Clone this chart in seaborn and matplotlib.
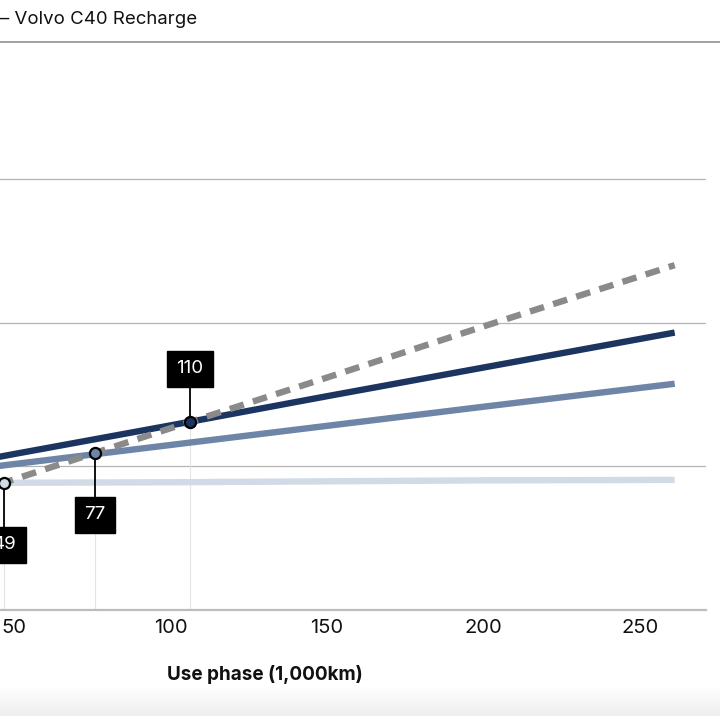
import numpy as np
import pandas as pd
import matplotlib
matplotlib.use("Agg")
import matplotlib.pyplot as plt
import seaborn as sns

sns.set_theme(style="white")
plt.rcParams['font.family'] = ['Inter', 'DejaVu Sans']

# use phase in 1,000 km, cumulative emissions in tCO2e
km = [0, 50, 100, 150, 200, 261]
xc40_petrol = [16.5, 27.2, 37.9, 48.5, 59.2, 72.0]
c40_global_mix = [26.4, 32.5, 38.5, 44.6, 50.6, 57.9]
c40_eu_mix = [26.4, 30.4, 34.4, 38.4, 42.4, 47.2]
c40_wind = [26.4, 26.5, 26.6, 26.8, 27.0, 27.1]

# break-even points (where each C40 line meets the petrol line)
be_labels = ['49', '77', '110']
be_x = [46.9, 75.9, 106.2]
be_y = [26.5, 32.7, 39.3]
be_series = ['Wind power', 'EU-28 mix', 'Global mix']

series = ['Petrol', 'Global mix', 'EU-28 mix', 'Wind power']
colors = {'Petrol': '#8a8a8a', 'Global mix': '#1b3560',
          'EU-28 mix': '#6e85a7', 'Wind power': '#d0dbe6'}

df = pd.DataFrame({'km': km * 4,
                   'co2': xc40_petrol + c40_global_mix + c40_eu_mix + c40_wind,
                   'series': [s for s in series for _ in km]})

fig = plt.figure(figsize=(7.2, 7.16), dpi=100)
ax = fig.add_axes([-142.6 / 720, 106.5 / 716, 848.6 / 720, 526.1 / 716])
ax.set_xlim(0, 271)
ax.set_ylim(0, 110)

for y in [30, 60, 90]:
    ax.axhline(y, color='#b4b4b4', lw=0.9, zorder=0)
for x, y in zip(be_x, be_y):
    ax.plot([x, x], [0, y], color='#e4e4e4', lw=0.8, zorder=0)

sns.lineplot(data=df, x='km', y='co2', hue='series', style='series',
             hue_order=series[::-1], style_order=series[::-1],
             palette=colors,
             dashes={'Petrol': (2.3, 1.5), 'Global mix': '', 'EU-28 mix': '', 'Wind power': ''},
             lw=4.6, legend=False, ax=ax)
for line in ax.lines:
    line.set_solid_capstyle('butt')
    line.set_dash_capstyle('butt')

box_y = [13.5, 19.8, 50.3]
for lab, x, y, s, by in zip(be_labels, be_x, be_y, be_series, box_y):
    ax.plot([x, x], [y, by], color='black', lw=1.3, zorder=5)
    ax.plot(x, y, 'o', ms=8, mfc=colors[s], mec='black', mew=1.6, zorder=6)
    ax.text(x, by, lab, color='white', fontsize=13.5, ha='center', va='center',
            zorder=7, bbox=dict(boxstyle='square,pad=0.5', fc='black', ec='black'))

sns.despine(ax=ax, left=True, top=True, right=True)
ax.spines['bottom'].set_color('#bdbdbd')
ax.spines['bottom'].set_linewidth(1.6)
ax.set_xticks([0, 50, 100, 150, 200, 250])
ax.set_yticks([])
ax.tick_params(axis='x', direction='in', length=9.5, width=0.9, color='#bdbdbd',
               labelsize=14.5, labelcolor='#111111', pad=7)
ax.set_xlabel('Use phase (1,000km)', fontsize=13.6, fontweight='bold', color='#111111')
ax.set_ylabel('')
ax.xaxis.set_label_coords((265 + 142.6) / 848.6, -0.105)

fig.text(0.0, 1 - 20 / 716, '– Volvo C40 Recharge', fontsize=13.4, color='#111111',
         ha='left', va='center')
fig.add_artist(plt.Line2D([0, 1], [1 - 42 / 716] * 2, color='#9a9a9a', lw=1.3))

gax = fig.add_axes([0, 0, 1, 30 / 716])
grad = np.linspace(0, 1, 50).reshape(-1, 1)
gax.imshow(grad, aspect='auto', cmap=matplotlib.colors.LinearSegmentedColormap.from_list(
    'g', ['#eeeeee', '#ffffff']), origin='lower', extent=[0, 1, 0, 1])
gax.axis('off')

fig.savefig('out.png', dpi=100)
